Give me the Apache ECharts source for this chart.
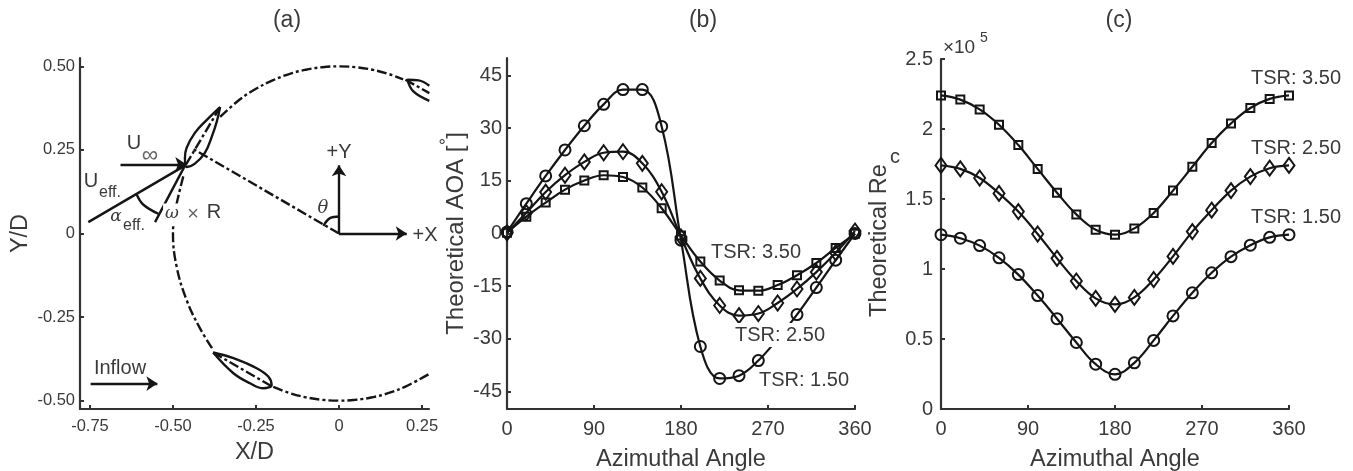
<!DOCTYPE html>
<html>
<head>
<meta charset="utf-8">
<style>html,body{margin:0;padding:0;background:#fff}#chart{width:1353px;height:471px}</style>
<script src="https://cdn.jsdelivr.net/npm/echarts@6/dist/echarts.min.js"></script>
</head>
<body>
<div id="chart"></div>
<script>
// azimuth samples shared by (b) and (c)
var angles = [0, 20, 40, 60, 80, 100, 120, 140, 160, 180, 200, 220, 240, 260, 280, 300, 320, 340, 360];

// (b) theoretical AOA
var aoa150 = [0.4, 8.5, 16.4, 23.8, 30.7, 36.8, 41, 41, 30.5, -1.9, -32.2, -41.3, -40.5, -36.2, -30, -23.1, -15.4, -7.6, 0];
var aoa250 = [0.2, 5.9, 11.8, 16.6, 20.4, 23, 23.3, 20, 11.9, -1, -12.8, -20.5, -23.4, -22.8, -19.8, -15.8, -11, -5.5, 0.7];
var aoa350 = [0.2, 4.8, 8.8, 12.5, 15.1, 16.6, 16.1, 13.1, 7.2, -0.6, -8, -13.4, -16.2, -16.3, -14.7, -11.9, -8.4, -4.1, -0.1];

// (c) theoretical Re_c, in units of 10^5
var re150 = [1.245, 1.22, 1.167, 1.08, 0.96, 0.81, 0.645, 0.475, 0.32, 0.248, 0.33, 0.49, 0.665, 0.83, 0.973, 1.088, 1.17, 1.226, 1.245];
var re250 = [1.74, 1.715, 1.65, 1.54, 1.41, 1.25, 1.076, 0.914, 0.79, 0.747, 0.797, 0.925, 1.09, 1.267, 1.42, 1.56, 1.66, 1.72, 1.74];
var re350 = [2.24, 2.21, 2.14, 2.03, 1.885, 1.715, 1.545, 1.39, 1.28, 1.245, 1.29, 1.4, 1.56, 1.73, 1.9, 2.04, 2.15, 2.215, 2.24];

// tick labels
var ticksAx = [-0.75, -0.5, -0.25, 0, 0.25];
var ticksAy = [-0.5, -0.25, 0, 0.25, 0.5];
var ticksBy = [-45, -30, -15, 0, 15, 30, 45];

// (a) schematic, in X/D and Y/D
var arcTop = [[-0.358, 0.349], [-0.3, 0.4], [-0.25, 0.433], [-0.2, 0.458], [-0.15, 0.477], [-0.1, 0.49], [-0.05, 0.4975], [0, 0.5], [0.05, 0.4975], [0.1, 0.49], [0.15, 0.477], [0.193, 0.461]];
var arcLeft = [[-0.469, 0.171], [-0.484, 0.111], [-0.494, 0.061], [-0.5, 0], [-0.489, -0.099], [-0.459, -0.199], [-0.419, -0.283], [-0.379, -0.348]];
var arcBottom = [[-0.198, -0.459], [-0.15, -0.477], [-0.1, -0.49], [-0.05, -0.4975], [0, -0.5], [0.05, -0.4975], [0.1, -0.49], [0.15, -0.477], [0.2, -0.458], [0.272, -0.42]];
var bladeLeft = [[-0.358, 0.378], [-0.398, 0.34], [-0.434, 0.301], [-0.459, 0.256], [-0.464, 0.226], [-0.459, 0.199], [-0.434, 0.209], [-0.404, 0.241], [-0.383, 0.29], [-0.368, 0.335], [-0.358, 0.378]];
var bladeLow = [[-0.379, -0.356], [-0.318, -0.373], [-0.248, -0.403], [-0.213, -0.428], [-0.203, -0.453], [-0.228, -0.463], [-0.268, -0.448], [-0.318, -0.418], [-0.379, -0.356]];
var bladeTopA = [[0.272, 0.442], [0.24, 0.458], [0.206, 0.46], [0.224, 0.425], [0.272, 0.397]];
var chordLeft = [[-0.358, 0.378], [-0.461, 0.206]];
var chordLow = [[-0.379, -0.356], [-0.203, -0.457]];
var chordTop = [[0.2, 0.46], [0.272, 0.42]];
var radius = [[0, 0], [-0.439, 0.253]];
var uEff = [[-0.755, 0.034], [-0.464, 0.203]];
var omegaR = [[-0.554, 0.034], [-0.464, 0.203]];
var arcAlpha = [[-0.609, 0.116], [-0.589, 0.086], [-0.544, 0.059]];
var arcTheta = [[-0.047, 0.023], [-0.027, 0.046], [0, 0.051]];
var arrows = [
    [[-0.658, 0.207], [-0.46, 0.207]],
    [[0, 0], [0, 0.204]],
    [[0, 0], [0.204, 0]],
    [[-0.748, -0.449], [-0.547, -0.449]]
];

var ink = '#151515';
var textColor = '#3a3a3a';
var sans = '"Liberation Sans", Arial, sans-serif';
var dashDot = [10, 3, 3, 3];

function pairs(ys) {
    return angles.map(function (a, i) { return [a, ys[i]]; });
}

function curve(ys, symbol, size, idx) {
    return {
        type: 'line',
        xAxisIndex: idx,
        yAxisIndex: idx,
        data: pairs(ys),
        symbol: symbol,
        symbolSize: size,
        showAllSymbol: true,
        smooth: 0.4,
        clip: false,
        lineStyle: { color: ink, width: 2.2 },
        itemStyle: { color: 'transparent', borderColor: ink, borderWidth: 2 }
    };
}

function sketch(points, type, smooth, width) {
    return {
        type: 'line',
        xAxisIndex: 0,
        yAxisIndex: 0,
        data: points,
        symbol: 'none',
        smooth: smooth ? 0.4 : false,
        lineStyle: { color: ink, width: width || 2.4, type: type || 'solid' }
    };
}

function axisBase(grid, labelSize, margin) {
    return {
        type: 'value',
        gridIndex: grid,
        nameLocation: 'middle',
        nameTextStyle: { fontFamily: sans, fontSize: 23.5, color: textColor },
        splitLine: { show: false },
        axisLine: { show: true, onZero: false, lineStyle: { color: '#333', width: 2.2 } },
        axisTick: { show: true, inside: true, length: 4, lineStyle: { color: '#333', width: 2 } },
        axisLabel: { fontFamily: sans, fontSize: labelSize, color: textColor, margin: margin, hideOverlap: false }
    };
}

function merge(base, extra) {
    for (var k in extra) {
        if (k === 'axisTick' || k === 'axisLabel') {
            for (var j in extra[k]) { base[k][j] = extra[k][j]; }
        } else {
            base[k] = extra[k];
        }
    }
    return base;
}

function fmtA(v) {
    return v === 0 ? '0' : v.toFixed(2);
}

function note(text, x, y, size, extra) {
    var style = { text: text, x: x, y: y, fontFamily: sans, fontSize: size, fill: textColor, align: 'center', verticalAlign: 'middle' };
    for (var k in extra) { style[k] = extra[k]; }
    return { type: 'text', z: 100, silent: true, style: style };
}

function tsr(text, x, y, masked) {
    var extra = masked ? { backgroundColor: '#fff', padding: [2, 2, 2, 2] } : {};
    return note(text, x, y, 20, extra);
}

var greek = '"DejaVu Serif", "Liberation Serif", serif';
var titleStyle = { fontFamily: sans, fontSize: 23, fontWeight: 'normal', color: textColor };

var charts = echarts.init(document.getElementById('chart'));
var option = {
    animation: false,
    backgroundColor: '#fff',
    title: [
        { text: '(a)', left: 282, top: 4, textAlign: 'center', textStyle: titleStyle },
        { text: '(b)', left: 698, top: 4, textAlign: 'center', textStyle: titleStyle },
        { text: '(c)', left: 1114, top: 4, textAlign: 'center', textStyle: titleStyle }
    ],
    grid: [
        { left: 80, width: 349, top: 58, height: 351, outerBoundsMode: 'none' },
        { left: 507, width: 348, top: 58, height: 351, outerBoundsMode: 'none' },
        { left: 941, width: 348, top: 59, height: 350, outerBoundsMode: 'none' }
    ],
    xAxis: [
        merge(axisBase(0, 16.5, 9), {
            name: 'X/D', nameGap: 32, min: -0.78, max: 0.271,
            axisTick: { customValues: ticksAx },
            axisLabel: { customValues: ticksAx, formatter: fmtA }
        }),
        merge(axisBase(1, 20, 10), { name: 'Azimuthal Angle', nameGap: 39, min: 0, max: 360, interval: 90 }),
        merge(axisBase(2, 20, 10), { name: 'Azimuthal Angle', nameGap: 39, min: 0, max: 360, interval: 90 })
    ],
    yAxis: [
        merge(axisBase(0, 16.5, 5), {
            name: 'Y/D', nameGap: 47, min: -0.525, max: 0.525,
            axisTick: { customValues: ticksAy },
            axisLabel: { customValues: ticksAy, formatter: fmtA }
        }),
        merge(axisBase(1, 20, 5), {
            name: 'Theoretical AOA [ ]', nameGap: 39, min: -50, max: 50,
            nameTextStyle: { fontFamily: sans, fontSize: 24, color: textColor },
            axisTick: { customValues: ticksBy },
            axisLabel: { customValues: ticksBy }
        }),
        merge(axisBase(2, 20, 8), {
            name: 'Theoretical Re  ', nameGap: 49, min: 0, max: 2.5, interval: 0.5
        })
    ],
    series: [
        sketch(arcTop, dashDot, true),
        sketch(arcLeft, dashDot, true),
        sketch(arcBottom, dashDot, true),
        sketch(bladeLeft, 'solid', true),
        sketch(bladeLow, 'solid', true),
        sketch(bladeTopA, 'solid', true),
        sketch(chordLeft, dashDot),
        sketch(chordLow, dashDot),
        sketch(chordTop, dashDot),
        sketch(radius, dashDot),
        sketch(uEff, 'solid'),
        sketch(omegaR, 'solid'),
        sketch(arcAlpha, 'solid', true),
        sketch(arcTheta, 'solid', true),
        {
            type: 'line',
            xAxisIndex: 0,
            yAxisIndex: 0,
            data: [],
            symbol: 'none',
            markLine: {
                silent: true,
                animation: false,
                symbol: ['none', 'arrow'],
                symbolSize: 11,
                label: { show: false },
                lineStyle: { color: ink, width: 2.4, type: 'solid' },
                data: arrows.map(function (a) {
                    return [{ coord: a[0] }, { coord: a[1] }];
                })
            }
        },
        curve(aoa350, 'rect', 8, 1),
        curve(aoa250, 'diamond', [11, 15], 1),
        curve(aoa150, 'circle', 11, 1),
        curve(re350, 'rect', 8, 2),
        curve(re250, 'diamond', [11, 15], 2),
        curve(re150, 'circle', 11, 2)
    ],
    graphic: [
        // (a) annotations
        note('U', 134, 143, 20),
        note('\u221E', 150, 156, 23, { fill: '#666' }),
        note('U', 91, 181, 20),
        note('eff.', 110, 193, 16),
        note('\u03B1', 116, 217, 17, { fontFamily: greek, fontStyle: 'italic' }),
        note('eff.', 134, 226, 16),
        note('\u03C9', 172, 214, 17, { fontFamily: greek, fontStyle: 'italic', backgroundColor: '#fff', padding: [2, 2, 2, 2] }),
        note('\u00D7', 193, 214, 20, { fill: '#666' }),
        note('R', 214, 212, 20),
        note('\u03B8', 323, 208, 18, { fontFamily: greek, fontStyle: 'italic' }),
        note('+Y', 339, 152, 20),
        note('+X', 425, 235, 20),
        note('Inflow', 120, 368, 20),
        // (b) labels
        note('\u00B0', 442, 147, 18),
        tsr('TSR: 3.50', 756, 252),
        tsr('TSR: 2.50', 780, 335, true),
        tsr('TSR: 1.50', 804, 380),
        // (c) labels
        note('c', 895, 157, 20, { rotation: Math.PI / 2 }),
        note('\u00D710', 959, 48, 19),
        note('5', 984, 38, 14),
        tsr('TSR: 3.50', 1296, 78),
        tsr('TSR: 2.50', 1296, 148),
        tsr('TSR: 1.50', 1296, 217)
    ]
};

charts.setOption(option);
</script>
</body>
</html>
